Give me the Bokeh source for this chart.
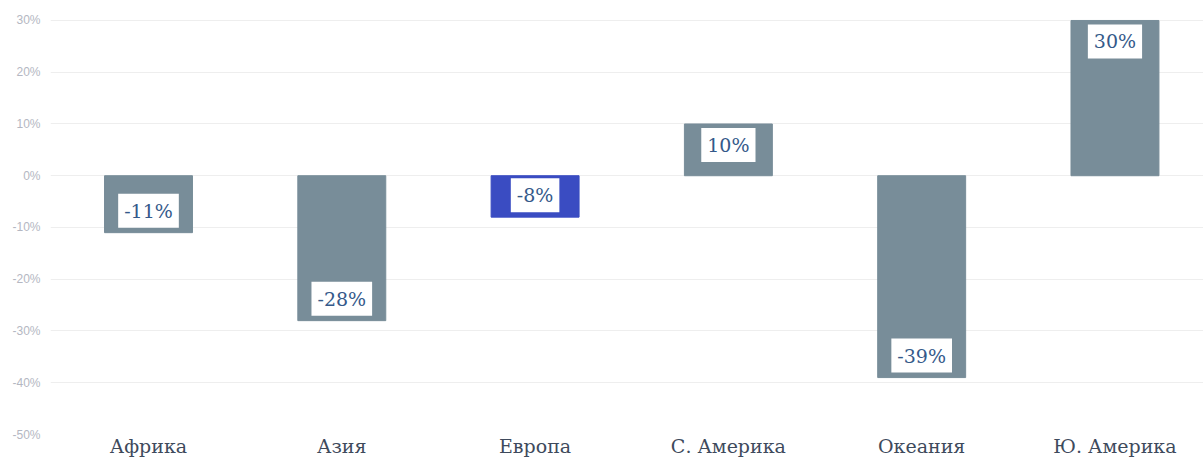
from bokeh.plotting import figure
from bokeh.models import Range1d, FixedTicker, PrintfTickFormatter, ColumnDataSource, Label
from bokeh.embed import file_html
from bokeh.resources import INLINE

regions = ["Африка", "Азия", "Европа", "С. Америка", "Океания", "Ю. Америка"]
changes = [-11, -28, -8, 10, -39, 30]
labels = ["-11%", "-28%", "-8%", "10%", "-39%", "30%"]
highlight = "Европа"
y_ticks = [-50, -40, -30, -20, -10, 0, 10, 20, 30]

GRAY = "#788d99"
BLUE = "#3a4cc2"

xs = list(range(len(regions)))
colors = [BLUE if r == highlight else GRAY for r in regions]
src = ColumnDataSource(dict(x=xs, top=changes, color=colors))

p = figure(width=1203, height=459, output_backend="svg", toolbar_location=None,
           x_range=Range1d(-0.507, 5.458), y_range=Range1d(-50, 31.54),
           min_border_left=50, min_border_right=0, min_border_top=12, min_border_bottom=23)
p.outline_line_color = None
p.background_fill_color = "white"

p.vbar(x="x", top="top", bottom=0, width=0.455, color="color", source=src)

# axes
p.xaxis.ticker = FixedTicker(ticks=xs)
p.xaxis.major_label_overrides = {i: r for i, r in zip(xs, regions)}
p.xaxis.axis_line_color = None
p.xaxis.major_tick_line_color = None
p.xaxis.major_tick_in = 0
p.xaxis.major_tick_out = 0
p.xaxis.minor_tick_line_color = None
p.xaxis.major_label_text_font = "DejaVu Serif"
p.xaxis.major_label_text_font_size = "19px"
p.xaxis.major_label_text_color = "#3e4a5c"
p.xaxis.major_label_standoff = 0

p.yaxis.ticker = FixedTicker(ticks=y_ticks)
p.yaxis.formatter = PrintfTickFormatter(format="%d%%")
p.yaxis.axis_line_color = None
p.yaxis.major_tick_line_color = None
p.yaxis.major_tick_in = 0
p.yaxis.major_tick_out = 0
p.yaxis.minor_tick_line_color = None
p.yaxis.major_label_text_font = "Liberation Sans"
p.yaxis.major_label_text_font_size = "12px"
p.yaxis.major_label_text_color = "#b4b7c2"
p.yaxis.major_label_standoff = 10

p.xgrid.grid_line_color = None
p.ygrid.grid_line_color = "#eeeeee"
p.ygrid.grid_line_width = 1
p.ygrid.level = "underlay"

for x, v, t in zip(xs, changes, labels):
    pos = v >= 0
    p.add_layout(Label(x=x, y=v, text=t, text_align="center",
                       text_baseline="top" if pos else "bottom",
                       y_offset=-4 if pos else 5,
                       text_font="DejaVu Serif", text_font_size="19px",
                       text_color="#34598a",
                       background_fill_color="white", padding=6))

open("out.html", "w").write(file_html(p, INLINE))
